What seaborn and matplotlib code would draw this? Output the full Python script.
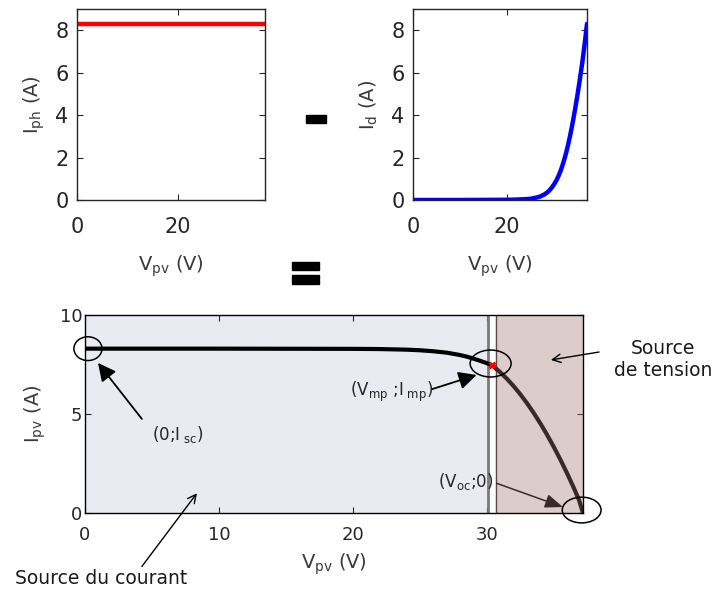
import numpy as np
import pandas as pd
import seaborn as sns
import matplotlib
matplotlib.use("Agg")
import matplotlib.pyplot as plt
from matplotlib.patches import Ellipse, Rectangle

sns.set_theme(style="ticks")
plt.rcParams['font.family'] = ['DejaVu Sans']
plt.rcParams['mathtext.fontset'] = 'dejavusans'

# ---- data ----
v_top = [0, 37.2]
i_ph = [8.3, 8.3]

v_d = [0, 10, 20, 22, 24, 25, 26, 27, 28, 28.5, 29, 29.5, 30, 30.5, 31, 31.5, 32, 32.5,
       33, 33.5, 34, 34.5, 35, 35.5, 36, 36.5, 37.0]
i_d = [0, 0, 0.01, 0.02, 0.04, 0.06, 0.1, 0.16, 0.27, 0.35, 0.45, 0.58, 0.74, 0.93, 1.16,
       1.44, 1.78, 2.17, 2.62, 3.13, 3.70, 4.32, 4.99, 5.71, 6.48, 7.35, 8.3]

v_pv = [0, 10, 20, 22, 24, 25, 26, 27, 28, 28.5, 29, 29.5, 30, 30.4, 31, 31.5, 32, 32.5,
        33, 33.5, 34, 34.5, 35, 35.5, 36, 36.5, 36.9, 37.2]
i_pv = [8.3, 8.3, 8.29, 8.28, 8.25, 8.22, 8.17, 8.1, 7.98, 7.9, 7.8, 7.69, 7.57, 7.47, 7.12,
        6.79, 6.42, 6.01, 5.56, 5.07, 4.54, 3.97, 3.36, 2.71, 2.02, 1.29, 0.66, 0.0]

v_mp, i_mp = 30.4, 7.47
v_oc, i_sc = 37.2, 8.3

W, H = 721, 590
fig = plt.figure(figsize=(W / 100, H / 100), dpi=100)

def ax_px(l, t, r, b):
    return fig.add_axes([l / W, 1 - b / H, (r - l) / W, (b - t) / H])

def style_box(ax, fs, xpad, ypad):
    for s in ax.spines.values():
        s.set_visible(True)
        s.set_color('#262626')
        s.set_linewidth(1.0)
    ax.tick_params(direction='in', top=True, right=True, length=4, width=0.8,
                   labelsize=fs, colors='#262626')
    ax.tick_params(axis='x', pad=xpad)
    ax.tick_params(axis='y', pad=ypad)

lab_color = '#3a3a3a'

# ---- top-left: I_ph ----
ax1 = ax_px(77, 9, 265, 200)
sns.lineplot(x=v_top, y=i_ph, ax=ax1, color='#ff0000', linewidth=3.2)
ax1.set_xlim(0, 37.2)
ax1.set_ylim(0, 9)
ax1.set_xticks([0, 20])
ax1.set_yticks([0, 2, 4, 6, 8])
style_box(ax1, 15, 12, 6)
ax1.set_xlabel(r'V$_{\mathrm{pv}}$ (V)', fontsize=14, color=lab_color, labelpad=12)
ax1.set_ylabel(r'I$_{\mathrm{ph}}$ (A)', fontsize=14, color=lab_color, labelpad=6)

# ---- top-right: I_d ----
ax2 = ax_px(413, 9, 587, 200)
sns.lineplot(x=v_d, y=i_d, ax=ax2, color='#0000ff', linewidth=3.2)
ax2.set_xlim(0, 37.0)
ax2.set_ylim(0, 9)
ax2.set_xticks([0, 20])
ax2.set_yticks([0, 2, 4, 6, 8])
style_box(ax2, 15, 12, 6)
ax2.set_xlabel(r'V$_{\mathrm{pv}}$ (V)', fontsize=14, color=lab_color, labelpad=12)
ax2.set_ylabel(r'I$_{\mathrm{d}}$ (A)', fontsize=14, color=lab_color, labelpad=8)

# ---- bottom: I_pv ----
ax3 = ax_px(85, 315, 583, 513)
ax3.set_facecolor('white')
ax3.axvspan(0, 30.1, color='#eaeaf2', zorder=0, lw=0)
ax3.axvline(30.1, color='#7a7a7a', lw=2.0, zorder=1)
ax3.axvline(30.7, color='#333333', lw=1.0, zorder=1)
sns.lineplot(x=v_pv, y=i_pv, ax=ax3, color='black', linewidth=3.0, zorder=2)
# translucent brown band drawn above the curve
ax3.axvspan(30.7, 37.2, facecolor=(159 / 255, 115 / 255, 110 / 255), alpha=0.365, zorder=3, lw=0)
ax3.plot([v_mp], [i_mp], marker='x', color='red', ms=5, mew=2, zorder=5)
ax3.set_xlim(0, 37.2)
ax3.set_ylim(0, 10)
ax3.set_xticks([0, 10, 20, 30])
ax3.set_yticks([0, 5, 10])
style_box(ax3, 13, 9, 2)
for s in ax3.spines.values():
    s.set_color('black')
    s.set_zorder(6)
ax3.set_xlabel(r'V$_{\mathrm{pv}}$ (V)', fontsize=14, color=lab_color, labelpad=6)
ax3.set_ylabel(r'I$_{\mathrm{pv}}$ (A)', fontsize=14, color=lab_color, labelpad=8)

# ellipses
for (cx, cy, w, h) in [(0.22, 8.3, 2.1, 1.2), (30.3, 7.55, 3.06, 1.36), (37.1, 0.15, 2.9, 1.3)]:
    e = Ellipse((cx, cy), w, h, fill=False, edgecolor='black', lw=1.1, zorder=7, clip_on=False)
    ax3.add_patch(e)

big = dict(arrowstyle='-|>,head_length=0.9,head_width=0.45', color='black', lw=1.3, shrinkA=0, shrinkB=0)
ax3.annotate('', xy=(0.97, 7.58), xytext=(4.25, 4.75), arrowprops=big, zorder=8)
ax3.text(6.9, 3.95, r'(0;I$_{\mathrm{\ sc}}$)', fontsize=12, color='#262626', ha='center', va='center', zorder=8)

ax3.annotate('', xy=(29.25, 6.97), xytext=(25.9, 6.25), arrowprops=big, zorder=8)
ax3.text(22.9, 6.1, r'(V$_{\mathrm{mp}}$ ;I$_{\mathrm{\ mp}}$)', fontsize=12, color='#262626', ha='center', va='center', zorder=8)

brn = dict(arrowstyle='-|>,head_length=0.9,head_width=0.35', color='#3a2a28', lw=1.1, shrinkA=0, shrinkB=0)
ax3.annotate('', xy=(35.7, 0.3), xytext=(30.75, 1.5), arrowprops=brn, zorder=8)
ax3.text(28.4, 1.57, r'(V$_{\mathrm{oc}}$;0)', fontsize=12, color='#262626', ha='center', va='center', zorder=8)

thin = dict(arrowstyle='->,head_length=0.5,head_width=0.25', color='black', lw=1.0, shrinkA=0, shrinkB=0)
ax3.annotate('', xy=(8.36, 1.0), xytext=(4.25, -2.7), arrowprops=thin, annotation_clip=False, zorder=8)
fig.text(15 / W, 1 - 578 / H, 'Source du courant', fontsize=13.5, color='#1a1a1a', ha='left', va='center')

ax3.annotate('', xy=(34.8, 7.73), xytext=(38.4, 8.13), arrowprops=thin, annotation_clip=False, zorder=8)
fig.text(663 / W, 1 - 360 / H, 'Source\nde tension', fontsize=13.5, color='#1a1a1a', ha='center', va='center', linespacing=1.2)

# minus and equals signs
fig.add_artist(Rectangle((306 / W, 1 - 123 / H), 20 / W, 8 / H, transform=fig.transFigure, color='black'))
fig.add_artist(Rectangle((292 / W, 1 - 270 / H), 27 / W, 8 / H, transform=fig.transFigure, color='black'))
fig.add_artist(Rectangle((292 / W, 1 - 284 / H), 27 / W, 9 / H, transform=fig.transFigure, color='black'))

fig.savefig('out.png', dpi=100, facecolor='white')
